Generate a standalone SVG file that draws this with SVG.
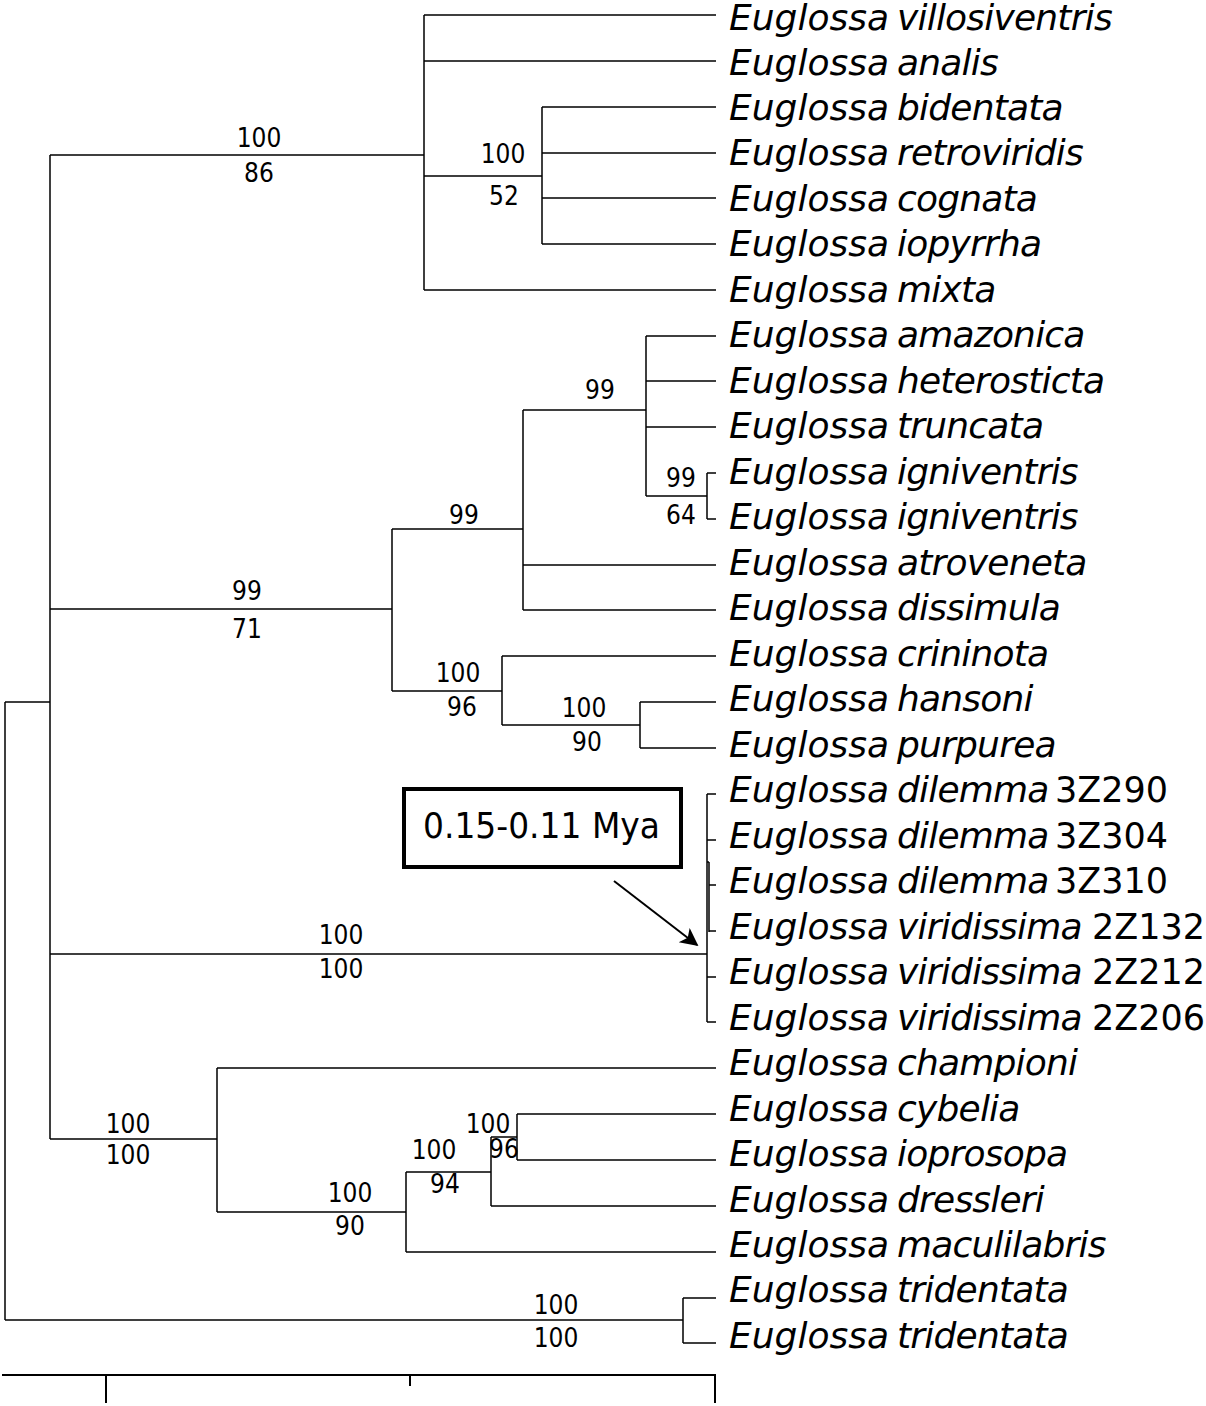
<svg xmlns="http://www.w3.org/2000/svg" width="1206" height="1406" viewBox="0 0 1206 1406">
<style>
.t{font-family:"DejaVu Sans","Liberation Sans",sans-serif;font-style:italic;font-size:36px;fill:#000}
.t tspan{letter-spacing:-0.8px}
.c{font-family:"DejaVu Sans","Liberation Sans",sans-serif;font-size:35px;fill:#000}
.n{font-family:"DejaVu Sans Condensed","DejaVu Sans",sans-serif;font-stretch:condensed;font-size:26px;fill:#000;text-anchor:middle}
.e{fill:none;stroke:#000;stroke-width:1.5}
.s{fill:none;stroke:#000;stroke-width:2}
</style>
<defs>
<marker id="ah" viewBox="0 0 10 10" refX="9" refY="5" markerWidth="20" markerHeight="18" orient="auto" markerUnits="userSpaceOnUse">
<path d="M0,0 L10,5 L0,10 L2.5,5 Z" fill="#000"/>
</marker>
</defs>
<rect width="1206" height="1406" fill="#fff"/>
<g id="connectors">
<path class="e" d="M5,702 V1320 M5,702 H50 M5,1320 H683"/>
<path class="e" d="M683,1298 V1343 M683,1298 H716 M683,1343 H716"/>
<path class="e" d="M50,155 V1139 M50,155 H424 M50,609 H392 M50,954 H707 M50,1139 H217"/>
<path class="e" d="M424,15 V290 M424,15 H716 M424,61 H716 M424,176 H542 M424,290 H716"/>
<path class="e" d="M542,107 V244 M542,107 H716 M542,153 H716 M542,198 H716 M542,244 H716"/>
<path class="e" d="M392,529 V691 M392,529 H523 M392,691 H502"/>
<path class="e" d="M523,410 V610 M523,410 H646 M523,565 H716 M523,610 H716"/>
<path class="e" d="M646,336 V496 M646,336 H716 M646,381 H716 M646,427 H716 M646,496 H707"/>
<path class="e" d="M707,473 V519 M707,473 H716 M707,519 H716"/>
<path class="e" d="M502,656 V725 M502,656 H716 M502,725 H640"/>
<path class="e" d="M640,702 V748 M640,702 H716 M640,748 H716"/>
<path class="e" d="M707,794 V1022 M707,794 H716 M707,840 H716 M709,862 V932 M707,862 H709 M709,885 H716 M709,931 H716 M707,977 H716 M707,1022 H716"/>
<path class="e" d="M217,1068 V1212 M217,1068 H716 M217,1212 H406"/>
<path class="e" d="M406,1172 V1252 M406,1172 H491 M406,1252 H716"/>
<path class="e" d="M491,1137 V1206 M491,1137 H517 M491,1206 H716"/>
<path class="e" d="M517,1114 V1160 M517,1114 H716 M517,1160 H716"/>
<line x1="614" y1="881" x2="697" y2="945" stroke="#000" stroke-width="2" marker-end="url(#ah)"/>
</g>
<g id="scale">
<path class="s" d="M2,1375 H715 V1403 M106,1375 V1403 M410,1375 V1386"/>
</g>
<g id="annotation">
<rect x="404" y="789" width="277" height="78" fill="#fff" stroke="#000" stroke-width="4"/>
<text class="c" x="423" y="838" font-size="34" textLength="237" lengthAdjust="spacingAndGlyphs">0.15-0.11 Mya</text>
</g>
<g id="node-A"><text class="n" x="259" y="147">100</text><text class="n" x="259" y="182">86</text></g>
<g id="node-A1"><text class="n" x="503" y="163">100</text><text class="n" x="504" y="205">52</text></g>
<g id="node-B"><text class="n" x="247" y="600">99</text><text class="n" x="247" y="638">71</text></g>
<g id="node-B1"><text class="n" x="464" y="524">99</text></g>
<g id="node-B1a"><text class="n" x="600" y="399">99</text></g>
<g id="node-B1b"><text class="n" x="681" y="487">99</text><text class="n" x="681" y="524">64</text></g>
<g id="node-B2"><text class="n" x="458" y="682">100</text><text class="n" x="462" y="716">96</text></g>
<g id="node-B2a"><text class="n" x="584" y="717">100</text><text class="n" x="587" y="751">90</text></g>
<g id="node-C"><text class="n" x="341" y="944">100</text><text class="n" x="341" y="978">100</text></g>
<g id="node-D"><text class="n" x="128" y="1133">100</text><text class="n" x="128" y="1164">100</text></g>
<g id="node-D1"><text class="n" x="350" y="1202">100</text><text class="n" x="350" y="1235">90</text></g>
<g id="node-D2"><text class="n" x="434" y="1159">100</text><text class="n" x="445" y="1193">94</text></g>
<g id="node-D3"><text class="n" x="488" y="1133">100</text><text class="n" x="504" y="1158">96</text></g>
<g id="node-E"><text class="n" x="556" y="1314">100</text><text class="n" x="556" y="1347">100</text></g>
<g id="tip-villosiventris"><text class="t" x="729" y="30">Euglossa<tspan x="897">villosiventris</tspan></text></g>
<g id="tip-analis"><text class="t" x="729" y="74.5">Euglossa<tspan x="897">analis</tspan></text></g>
<g id="tip-bidentata"><text class="t" x="729" y="120">Euglossa<tspan x="897">bidentata</tspan></text></g>
<g id="tip-retroviridis"><text class="t" x="729" y="165.4">Euglossa<tspan x="897">retroviridis</tspan></text></g>
<g id="tip-cognata"><text class="t" x="729" y="210.9">Euglossa<tspan x="897">cognata</tspan></text></g>
<g id="tip-iopyrrha"><text class="t" x="729" y="256.4">Euglossa<tspan x="897">iopyrrha</tspan></text></g>
<g id="tip-mixta"><text class="t" x="729" y="301.9">Euglossa<tspan x="897">mixta</tspan></text></g>
<g id="tip-amazonica"><text class="t" x="729" y="347.4">Euglossa<tspan x="897">amazonica</tspan></text></g>
<g id="tip-heterosticta"><text class="t" x="729" y="392.8">Euglossa<tspan x="897">heterosticta</tspan></text></g>
<g id="tip-truncata"><text class="t" x="729" y="438.3">Euglossa<tspan x="897">truncata</tspan></text></g>
<g id="tip-igniventris-1"><text class="t" x="729" y="483.8">Euglossa<tspan x="897">igniventris</tspan></text></g>
<g id="tip-igniventris-2"><text class="t" x="729" y="529.3">Euglossa<tspan x="897">igniventris</tspan></text></g>
<g id="tip-atroveneta"><text class="t" x="729" y="574.8">Euglossa<tspan x="897">atroveneta</tspan></text></g>
<g id="tip-dissimula"><text class="t" x="729" y="620.2">Euglossa<tspan x="897">dissimula</tspan></text></g>
<g id="tip-crininota"><text class="t" x="729" y="665.7">Euglossa<tspan x="897">crininota</tspan></text></g>
<g id="tip-hansoni"><text class="t" x="729" y="711.2">Euglossa<tspan x="897">hansoni</tspan></text></g>
<g id="tip-purpurea"><text class="t" x="729" y="756.7">Euglossa<tspan x="897">purpurea</tspan></text></g>
<g id="tip-dilemma-3Z290"><text class="t" x="729" y="802.2">Euglossa<tspan x="897">dilemma</tspan></text><text class="c" x="1055" y="802.2">3Z290</text></g>
<g id="tip-dilemma-3Z304"><text class="t" x="729" y="847.6">Euglossa<tspan x="897">dilemma</tspan></text><text class="c" x="1055" y="847.6">3Z304</text></g>
<g id="tip-dilemma-3Z310"><text class="t" x="729" y="893.1">Euglossa<tspan x="897">dilemma</tspan></text><text class="c" x="1055" y="893.1">3Z310</text></g>
<g id="tip-viridissima-2Z132"><text class="t" x="729" y="938.6">Euglossa<tspan x="897">viridissima</tspan></text><text class="c" x="1092" y="938.6">2Z132</text></g>
<g id="tip-viridissima-2Z212"><text class="t" x="729" y="984.1">Euglossa<tspan x="897">viridissima</tspan></text><text class="c" x="1092" y="984.1">2Z212</text></g>
<g id="tip-viridissima-2Z206"><text class="t" x="729" y="1029.6">Euglossa<tspan x="897">viridissima</tspan></text><text class="c" x="1092" y="1029.6">2Z206</text></g>
<g id="tip-championi"><text class="t" x="729" y="1075">Euglossa<tspan x="897">championi</tspan></text></g>
<g id="tip-cybelia"><text class="t" x="729" y="1120.5">Euglossa<tspan x="897">cybelia</tspan></text></g>
<g id="tip-ioprosopa"><text class="t" x="729" y="1166">Euglossa<tspan x="897">ioprosopa</tspan></text></g>
<g id="tip-dressleri"><text class="t" x="729" y="1211.5">Euglossa<tspan x="897">dressleri</tspan></text></g>
<g id="tip-maculilabris"><text class="t" x="729" y="1257">Euglossa<tspan x="897">maculilabris</tspan></text></g>
<g id="tip-tridentata-1"><text class="t" x="729" y="1302.4">Euglossa<tspan x="897">tridentata</tspan></text></g>
<g id="tip-tridentata-2"><text class="t" x="729" y="1347.9">Euglossa<tspan x="897">tridentata</tspan></text></g>
</svg>
